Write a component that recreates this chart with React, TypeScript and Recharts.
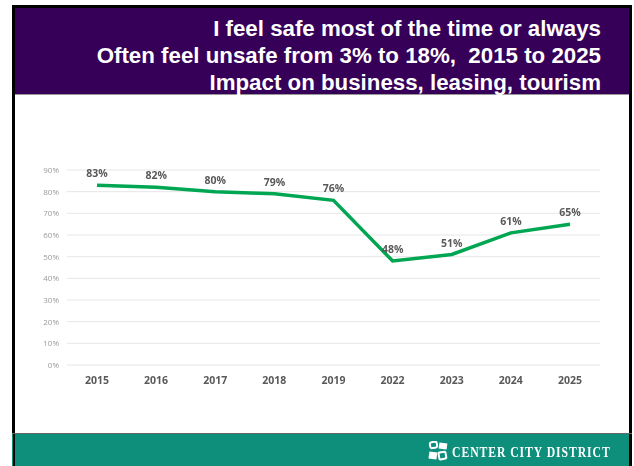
import * as React from 'react';
import { LineChart, Line, XAxis, YAxis, CartesianGrid, LabelList } from 'recharts';

const years = ['2015', '2016', '2017', '2018', '2019', '2022', '2023', '2024', '2025'];
const feelSafe = [83, 82, 80, 79, 76, 48, 51, 61, 65];
const yTicks = [0, 10, 20, 30, 40, 50, 60, 70, 80, 90];
const titleLines = [
  'I feel safe most of the time or always',
  'Often feel unsafe from 3% to 18%,  2015 to 2025',
  'Impact on business, leasing, tourism',
];

const data = years.map((year, i) => ({ year, value: feelSafe[i] }));

const sans = '"Open Sans", "Noto Sans", sans-serif';

export default function App() {
  return (
    <div style={{ position: 'absolute', left: 0, top: 0, width: 634, height: 466, background: '#fff', overflow: 'hidden' }}>
      {/* slide frame */}
      <div style={{ position: 'absolute', left: 12, top: 5, width: 620, height: 461, background: '#000' }} />
      <div style={{ position: 'absolute', left: 15, top: 8, width: 614, height: 458, background: '#fff' }} />

      {/* title banner */}
      <div style={{ position: 'absolute', left: 15, top: 8, width: 614, height: 87, background: '#360059', borderBottom: '1px solid #999', boxSizing: 'border-box' }} />
      {titleLines.map((line, i) => (
        <div
          key={line}
          style={{
            position: 'absolute',
            right: 33,
            top: 15 + i * 27,
            fontFamily: '"Liberation Sans", Arial, sans-serif',
            fontWeight: 700,
            fontSize: 22.3,
            lineHeight: '28px',
            color: '#fff',
            whiteSpace: 'pre',
          }}
        >
          {line}
        </div>
      ))}

      <div style={{ position: 'absolute', left: 0, top: 0, filter: 'blur(0.4px)' }}>
        <LineChart width={634} height={466} data={data} margin={{ top: 170, right: 34, bottom: 71, left: 0 }}>
          <CartesianGrid vertical={false} stroke="#e6e6e6" strokeWidth={1} />
          <XAxis
            dataKey="year"
            padding={{ left: 30, right: 30 }}
            axisLine={false}
            tickLine={false}
            interval={0}
            height={30}
            tickMargin={6}
            tick={{ fontSize: 10.5, fontWeight: 700, fill: '#595959', fontFamily: sans }}
          />
          <YAxis
            domain={[0, 90]}
            ticks={yTicks}
            interval={0}
            tickFormatter={(v: number) => `${v}%`}
            axisLine={false}
            tickLine={false}
            width={67}
            tickMargin={2}
            tick={{ fontSize: 8, fill: '#9a9a9a', fontFamily: sans }}
          />
          <Line
            dataKey="value"
            stroke="#00a651"
            strokeWidth={3.5}
            dot={false}
            isAnimationActive={false}
          >
            <LabelList
              dataKey="value"
              position="top"
              offset={8}
              formatter={(v: number) => `${v}%`}
              style={{ fontSize: 10.5, fontWeight: 700, fill: '#595959', fontFamily: sans }}
            />
          </Line>
        </LineChart>
      </div>

      {/* footer band */}
      <div style={{ position: 'absolute', left: 12, top: 433, width: 620, height: 33, background: '#0e8f7c', borderTop: '1px solid #666', boxSizing: 'border-box' }} />
      <div style={{ position: 'absolute', left: 13, top: 434, width: 2, height: 32, background: '#000' }} />
      <div style={{ position: 'absolute', left: 629, top: 434, width: 3, height: 32, background: '#000' }} />
      <svg style={{ position: 'absolute', left: 428, top: 441 }} width={20} height={20}>
        <rect x={2} y={1} width={7} height={6} rx={2} fill="none" stroke="#fff" strokeWidth={2} transform="rotate(-8 5 4)" />
        <rect x={11} y={2} width={8} height={6} fill="#fff" transform="rotate(8 15 5)" />
        <rect x={1} y={11} width={8} height={7} fill="#fff" transform="rotate(8 5 14)" />
        <rect x={11} y={11} width={7} height={7} rx={1} fill="none" stroke="#fff" strokeWidth={2} transform="rotate(-10 15 15)" />
      </svg>
      <div
        style={{
          position: 'absolute',
          left: 452,
          top: 443,
          fontFamily: '"Liberation Serif", serif',
          fontWeight: 700,
          fontSize: 15,
          lineHeight: '18px',
          letterSpacing: 1.2,
          color: '#fff',
          whiteSpace: 'pre',
          transform: 'scaleX(0.78)',
          transformOrigin: 'left center',
        }}
      >
        CENTER CITY DISTRICT
      </div>
    </div>
  );
}
